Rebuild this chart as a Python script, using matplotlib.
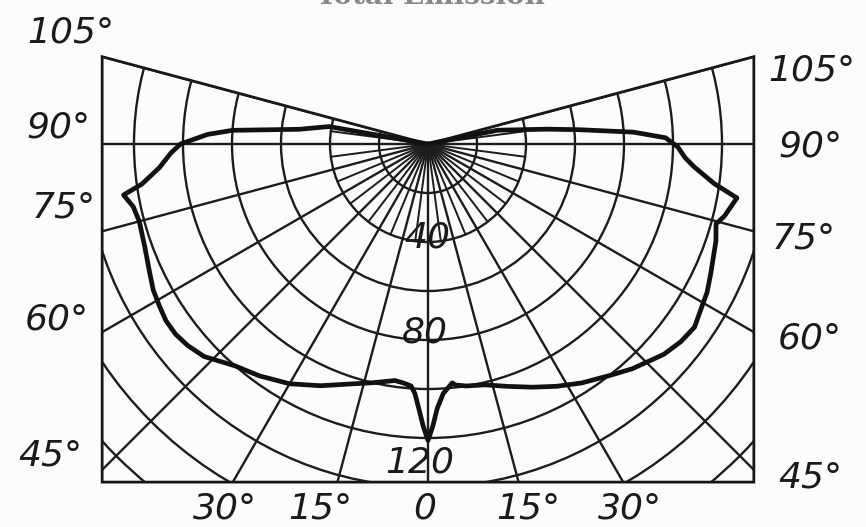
#!/usr/bin/env python3
"""Polar candle-power curve drawn on a clipped rectangular grid."""

import numpy as np
import matplotlib
matplotlib.use("Agg")
import matplotlib.pyplot as plt
from matplotlib.patches import Circle, Polygon

# candle-power readings, angle from nadir (deg) -> candles
left_angle = [0, 1, 2, 3, 4, 6, 8, 13, 18, 24, 30, 36, 41, 46.5, 50, 53, 56, 59,
              62, 65.5, 70, 75, 78, 80.5, 82, 85, 88, 90, 92.5, 94, 96.5, 100, 100]
left_cp = [121, 115, 108, 102, 99, 98, 97.5, 100, 103, 108, 113, 117, 120, 126,
           128, 129, 129, 128, 127, 125, 123, 122, 123, 126, 118, 110, 105, 101,
           90, 80, 53, 41, 0]
right_angle = [0, 1, 2, 3.5, 5.8, 6.5, 9, 13.3, 18, 23.2, 28, 32.8, 38, 42.3,
               48.3, 52, 55.5, 59.3, 62, 65.3, 71.4, 74.5, 76.3, 80.1, 82.1,
               85.1, 87, 89.3, 91.5, 93.3, 95.4, 97.1, 101.2, 101.2]
right_cp = [121, 115, 108, 102, 98, 99, 100, 101, 104, 108, 112, 116, 120, 124,
            129, 131, 132, 130, 129, 127, 124, 122, 124.5, 128, 118, 109, 105,
            102, 97, 84, 62, 49, 29, 0]

circle_values = [20, 40, 60, 80, 100, 120, 140, 160, 180]
circle_labels = ["40", "80", "120"]
side_labels = ["105°", "90°", "75°", "60°", "45°"]
bottom_labels = ["30°", "15°", "0", "15°", "30°"]
title = "Total Emission"

# geometry (2.45 px per candle, centre at px (428, 144))
PX = 2.45
HALF_W = 133
BOTTOM = -138
TOP_ANGLE = 105

fig = plt.figure(figsize=(8.66, 5.27), dpi=100)
fig.patch.set_facecolor("#fcfcfc")
ax = fig.add_axes([0, 0, 1, 1])
ax.set_xlim(-428 / PX, (866 - 428) / PX)
ax.set_ylim(-(527 - 144) / PX, 144 / PX)
ax.axis("off")

top_y = HALF_W * np.tan(np.radians(TOP_ANGLE - 90))
frame = Polygon([(0, 0), (-HALF_W, top_y), (-HALF_W, BOTTOM), (HALF_W, BOTTOM),
                 (HALF_W, top_y)], closed=True, fill=False, ec="#161616", lw=2.0)
ax.add_patch(frame)

grid_col = "#1c1c1c"

# concentric circles
for v in circle_values:
    c = Circle((0, 0), v, fill=False, ec=grid_col, lw=1.7)
    ax.add_patch(c)
    c.set_clip_path(frame)

# radial lines every 15 deg, short ones at 7.5 deg near the centre
for a in np.arange(-TOP_ANGLE, TOP_ANGLE + 1, 15):
    t = np.radians(a)
    ln, = ax.plot([0, 300 * np.sin(t)], [0, -300 * np.cos(t)], color=grid_col, lw=1.7)
    ln.set_clip_path(frame)
for a in np.arange(-97.5, 98, 15):
    t = np.radians(a)
    ln, = ax.plot([0, 40 * np.sin(t)], [0, -40 * np.cos(t)], color=grid_col, lw=1.4)
    ln.set_clip_path(frame)

# the curve
la = np.radians(left_angle[::-1])
lr = np.array(left_cp[::-1])
ra = np.radians(right_angle)
rr = np.array(right_cp)
xs = np.concatenate([-lr * np.sin(la), rr * np.sin(ra)])
ys = np.concatenate([-lr * np.cos(la), -rr * np.cos(ra)])
ax.plot(xs, ys, color="#111111", lw=3.4, solid_joinstyle="round",
        solid_capstyle="round", zorder=5)

lab_kw = dict(fontsize=26, style="italic", color="#1a1a1a", ha="center", va="center",
              family="DejaVu Sans", fontweight="light")

left_pos = [(-146, 45.7), (-151, 6.9), (-148.6, -26), (-151.4, -71.8), (-154.3, -127)]
right_pos = [(156.7, 30.2), (156, -1.2), (153.5, -38.4), (156, -79.2), (156, -136)]
for s, (x, y) in zip(side_labels, left_pos):
    ax.text(x, y, s, **lab_kw)
for s, (x, y) in zip(side_labels, right_pos):
    ax.text(x, y, s, **lab_kw)

bottom_pos = [(-82.9, -148.6), (-44, -148.6), (-1.2, -148.6), (40.8, -148.6), (82.4, -148.8)]
for s, (x, y) in zip(bottom_labels, bottom_pos):
    ax.text(x, y, s, **lab_kw)

circ_pos = [(-0.4, -38), (-1.2, -77.1), (-3.3, -129.8)]
for s, (x, y) in zip(circle_labels, circ_pos):
    ax.text(x, y, s, zorder=6, **lab_kw)

# title is mostly cut off by the top of the scan
ax.text(0.8, 57.2, title, fontsize=20, family="DejaVu Serif", fontweight="bold",
        color="#888888", ha="center", va="baseline")

fig.savefig("out.png", dpi=100, facecolor=fig.get_facecolor())
